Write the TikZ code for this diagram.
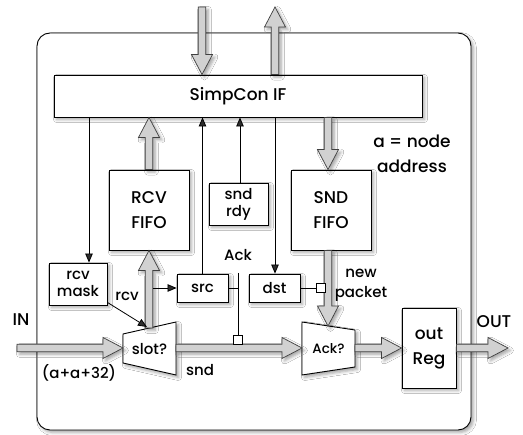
\documentclass[tikz,border=0pt]{standalone}
\usepackage{fontspec}
\setmainfont{Poppins}[UprightFont={* Medium}]
\usetikzlibrary{calc,arrows.meta,shadows.blur}

% wide hollow arrow for data paths, from #1 to #2
\newcommand\fatpath[2]{%
  \coordinate (fa) at (#1);
  \coordinate (fb) at (#2);
  \coordinate (fh) at ($(fb)!20pt!(fa)$);
  \filldraw[fatarr]
    ($(fa)!3.8pt!90:(fb)$) -- ($(fh)!3.8pt!90:(fb)$) -- ($(fh)!10.5pt!90:(fb)$)
    -- (fb) -- ($(fh)!10.5pt!-90:(fb)$) -- ($(fh)!3.8pt!-90:(fb)$)
    -- ($(fa)!3.8pt!-90:(fb)$) -- cycle;}

\begin{document}
\begin{tikzpicture}[x=1pt,y=-1pt,
  shade/.style={blur shadow={shadow xshift=2.5pt,shadow yshift=-2.5pt,shadow opacity=35,shadow blur radius=3pt}},
  box/.style={draw,line width=0.9pt,fill=white,inner sep=0pt,align=center,shade},
  big/.style={font=\fontsize{17}{25}\selectfont},
  med/.style={font=\fontsize{15}{17}\selectfont},
  small/.style={font=\fontsize{13.5}{14}\selectfont},
  sig/.style={-{Triangle[length=9pt,width=7.5pt]},line width=0.8pt},
  wire/.style={line width=0.8pt},
  sq/.style={draw,fill=white,line width=0.8pt,minimum size=9pt,inner sep=0pt},
  fatarr/.style={draw=black!75,fill=black!18,line width=0.7pt,shade},
  lbl/.style={inner sep=0pt,align=center}]

\useasboundingbox (0,0) rectangle (523,435);
\fill[white] (0,0) rectangle (523,435);

% module frame
\draw[line width=0.9pt,rounded corners=13pt,shade,fill=white] (37,33) rectangle (471,430);

% blocks
\node[box,big,minimum width=368pt,minimum height=42pt] (simp) at (238,96) {SimpCon IF};
\node[box,big,minimum width=80pt,minimum height=80pt] (rcvfifo) at (149,210) {RCV\\FIFO};
\node[box,big,minimum width=80pt,minimum height=80pt] (sndfifo) at (331,210) {SND\\FIFO};
\node[box,med,minimum width=59pt,minimum height=42pt] (sndrdy) at (238.5,204) {snd\\rdy};
\node[box,med,minimum width=58pt,minimum height=42pt] (rcvmask) at (78,284) {rcv\\mask};
\node[box,med,minimum width=51pt,minimum height=28pt] (src) at (202.5,288) {src};
\node[box,med,minimum width=51pt,minimum height=28pt] (dst) at (274.5,288) {dst};
\node[box,big,minimum width=54pt,minimum height=80pt] (outreg) at (429,348) {out\\Reg};

% selectors
\draw[box] (123,334) -- (176,322) -- (176,375) -- (123,363) -- cycle;
\node[lbl,med] (slot) at (149.5,349) {slot?};
\draw[box] (302,322) -- (355,330) -- (355,367) -- (302,375) -- cycle;
\node[lbl,small] (ack) at (328.5,349) {Ack?};

\coordinate (slotW) at (123,348);
\coordinate (slotE) at (176,348);
\coordinate (slotT) at (149,328);
\coordinate (ackW) at (302,348);
\coordinate (ackE) at (355,348);
\coordinate (ackT) at (328,326);
\coordinate (inS) at (17,348);
\coordinate (outE) at (508,348);
\coordinate (busIn) at (202,7);
\coordinate (busOut) at (275,7);

% data paths
\fatpath{busIn}{simp.north -| busIn}
\fatpath{simp.north -| busOut}{busOut}
\fatpath{rcvfifo.north}{simp.south -| rcvfifo.north}
\fatpath{simp.south -| ackT}{sndfifo.north -| ackT}
\fatpath{sndfifo.south -| ackT}{ackT}
\fatpath{slotT}{rcvfifo.south -| slotT}
\fatpath{inS}{slotW}
\fatpath{slotE}{ackW}
\fatpath{ackE}{outreg.west}
\fatpath{outreg.east}{outE}

% control signals
\coordinate (m1) at (89,117);
\draw[sig] (m1) -- (m1 |- rcvmask.north);
\draw[sig] (src.north) -- (simp.south -| src.north);
\coordinate (r1) at (240,183);
\draw[sig] (r1) -- (simp.south -| r1);
\coordinate (d1) at (275,117);
\draw[sig] (d1) -- (d1 |- dst.north);
\draw[sig] ($(rcvmask.south east)+(0,-3)$) -- (147,327);
\draw[sig] (153,288) -- (src.west);

% ack handshake
\node[sq] (acksq) at (238,339.5) {};
\coordinate (ackTop) at (238,273);
\draw[wire] (ackTop) -- (acksq.north);
\draw[wire] (src.east) -- (src.east -| ackTop);
\node[sq] (dstsq) at (320.5,288) {};
\draw[wire] (dst.east) -- (dstsq.west);

% labels
\node[lbl,big] (addr) at (412,154) {a = node\\address};
\node[lbl,med] (acklbl) at (238,255) {Ack};
\node[lbl,med] (rcvlbl) at (127,296) {rcv};
\node[lbl,med,font=\fontsize{15}{20}\selectfont] (newp) at (361,285) {new\\packet};
\node[lbl,big] (inlbl) at (21,320) {IN};
\node[lbl,big] (outlbl) at (494,322) {OUT};
\node[lbl,med] (addrsum) at (79,373) {(a+a+32)};
\node[lbl,med] (sndlbl) at (200,370) {snd};
\end{tikzpicture}
\end{document}
